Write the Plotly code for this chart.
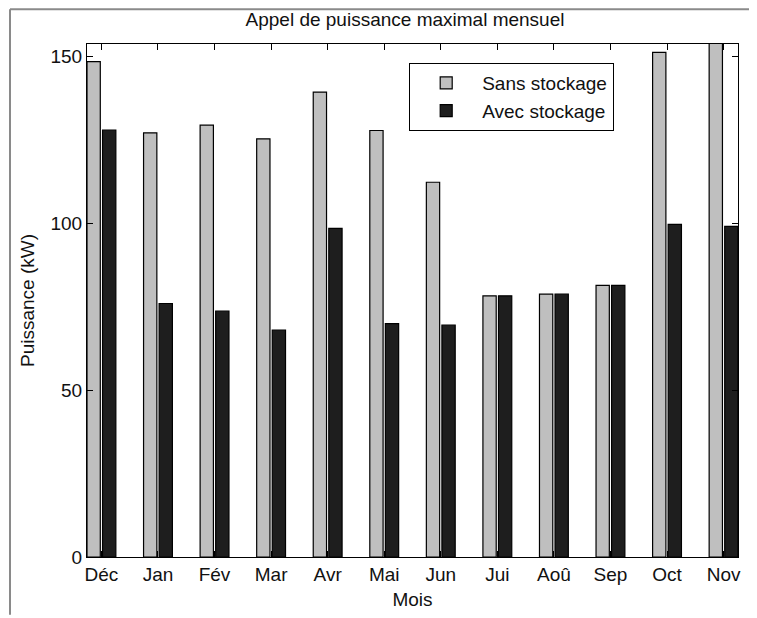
import plotly.graph_objects as go

months = ["Déc", "Jan", "Fév", "Mar", "Avr", "Mai", "Jun", "Jui", "Aoû", "Sep", "Oct", "Nov"]
sans_stockage = [148.3, 127.0, 129.3, 125.2, 139.2, 127.7, 112.2, 78.2, 78.7, 81.3, 151.1, 155.0]
avec_stockage = [127.8, 75.9, 73.6, 67.9, 98.4, 69.9, 69.4, 78.2, 78.7, 81.3, 99.6, 99.0]
y_ticks = [0, 50, 100, 150]

xpos = list(range(1, len(months) + 1))
FONT = "Liberation Sans, Arial, sans-serif"

fig = go.Figure()
fig.add_trace(go.Bar(
    x=xpos, y=sans_stockage, name="Sans stockage",
    width=0.235, offset=-0.255,
    marker=dict(color="#bfbfbf", line=dict(color="#000000", width=1.2)),
))
fig.add_trace(go.Bar(
    x=xpos, y=avec_stockage, name="Avec stockage",
    width=0.235, offset=0.02,
    marker=dict(color="#1e1e1e", line=dict(color="#000000", width=1.2)),
))

# page has an 8px body margin: work in page pixels, convert to figure pixels
OFF = 8
W, H = 757 - OFF, 618 - OFF
L, R, T, B = 87 - OFF, 738 - OFF, 44 - OFF, 560 - OFF
pw, ph = R - L, B - T

def px_x(p):
    return (p - OFF - L) / pw

def px_y(p):
    return (B - (p - OFF)) / ph

fig.update_layout(
    width=W, height=H,
    margin=dict(l=L, r=W - R, t=T, b=H - B),
    paper_bgcolor="white", plot_bgcolor="white",
    barmode="overlay",
    font=dict(family=FONT, size=19, color="#111111"),
    title=dict(text="Appel de puissance maximal mensuel", x=px_x(405), xref="paper",
               y=1 - (19 - OFF) / H, yref="container", xanchor="center", yanchor="middle",
               font=dict(size=19, color="#111111")),
    xaxis=dict(
        range=[0.745, 12.255], tickmode="array", tickvals=xpos, ticktext=months,
        ticks="inside", ticklen=6, tickwidth=1, tickcolor="black",
        showline=True, linecolor="black", linewidth=1.2, mirror="ticks",
        showgrid=False, zeroline=False,
        title=dict(text="Mois", standoff=8, font=dict(size=19)),
    ),
    yaxis=dict(
        range=[0, 153.6], tickmode="array", tickvals=y_ticks,
        ticks="inside", ticklen=6, tickwidth=1, tickcolor="black",
        showline=True, linecolor="black", linewidth=1.2, mirror="ticks",
        showgrid=False, zeroline=False,
        title=dict(text="Puissance (kW)", standoff=10, font=dict(size=19)),
    ),
    legend=dict(
        x=px_x(409), y=px_y(63), xanchor="left", yanchor="top",
        bordercolor="black", borderwidth=1.2, bgcolor="white",
        font=dict(size=19), itemwidth=62, tracegroupgap=2,
    ),
    showlegend=True,
)

# outer figure frame (left and top edges)
fig.add_shape(type="line", xref="paper", yref="paper",
              x0=px_x(10), x1=px_x(10), y0=px_y(618), y1=px_y(9),
              line=dict(color="#8a8a8a", width=2))
fig.add_shape(type="line", xref="paper", yref="paper",
              x0=px_x(10), x1=px_x(757), y0=px_y(9), y1=px_y(9),
              line=dict(color="#8a8a8a", width=2))

fig.write_html("out.html")
